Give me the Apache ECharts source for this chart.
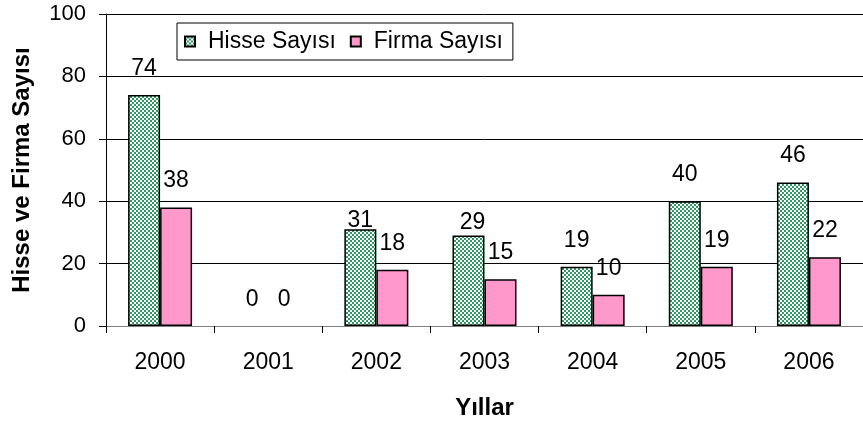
<!DOCTYPE html>
<html>
<head>
<meta charset="utf-8">
<script src="https://cdn.jsdelivr.net/npm/echarts@6/dist/echarts.min.js"></script>
<style>
html,body{margin:0;padding:0;background:#fff;}
#chart{width:863px;height:425px;}
</style>
</head>
<body>
<div id="chart"></div>
<script>
var categories = ['2000', '2001', '2002', '2003', '2004', '2005', '2006'];
var hisseSayisi = [74, 0, 31, 29, 19, 40, 46];
var firmaSayisi = [38, 0, 18, 15, 10, 19, 22];
var seriesNames = ['Hisse Sayısı', 'Firma Sayısı'];
var yAxisTitle = 'Hisse ve Firma Sayısı';
var xAxisTitle = 'Yıllar';

var FONT = '"Liberation Sans", Arial, sans-serif';

function makeChecker() {
  var c = document.createElement('canvas');
  c.width = 4; c.height = 4;
  var g = c.getContext('2d');
  g.fillStyle = '#2f9a5f';
  g.fillRect(0, 0, 4, 4);
  g.fillStyle = '#ffffff';
  g.fillRect(0, 0, 2, 2);
  g.fillRect(2, 2, 2, 2);
  return c;
}
var checker = makeChecker();

// label placement tweaks (index -> overrides) for the first series
var hisseLabelTweaks = {2: {distance: -3}, 3: {distance: 1, offset: [4, 0]}};

function buildData(values, tweaks) {
  return values.map(function (v, i) {
    var item = {value: v};
    if (tweaks && tweaks[i]) item.label = tweaks[i];
    if (v === 0) item.itemStyle = {borderWidth: 0};
    return item;
  });
}

var chart = echarts.init(document.getElementById('chart'), null, {renderer: 'canvas'});
chart.setOption({
  animation: false,
  backgroundColor: '#ffffff',
  textStyle: {fontFamily: FONT},
  grid: {left: 106, top: 14, width: 763, height: 315, containLabel: false},
  legend: {
    left: 177, top: 23,
    orient: 'horizontal',
    padding: [7, 10, 7, 7],
    borderColor: '#000',
    borderWidth: 1,
    backgroundColor: '#fff',
    itemWidth: 10, itemHeight: 10,
    itemGap: 14,
    icon: 'rect',
    textStyle: {fontFamily: FONT, fontSize: 23, color: '#000', padding: [0, 0, 0, 8]},
    data: seriesNames
  },
  xAxis: {
    type: 'category',
    data: categories,
    name: xAxisTitle,
    nameLocation: 'middle',
    nameGap: 70,
    nameTextStyle: {fontFamily: FONT, fontSize: 24, fontWeight: 'bold', color: '#000'},
    axisLine: {lineStyle: {color: '#808080', width: 1}},
    axisTick: {show: true, length: 7, inside: false, lineStyle: {color: '#000'}},
    axisLabel: {fontFamily: FONT, fontSize: 23, color: '#000', margin: 25},
    splitLine: {show: false}
  },
  yAxis: {
    type: 'value',
    min: 0, max: 100, interval: 20,
    name: yAxisTitle,
    nameLocation: 'middle',
    nameRotate: 90,
    nameGap: 72,
    nameTextStyle: {fontFamily: FONT, fontSize: 24, fontWeight: 'bold', color: '#000'},
    axisLine: {show: true, lineStyle: {color: '#000', width: 1}},
    axisTick: {show: true, length: 7, inside: false, lineStyle: {color: '#000'}},
    axisLabel: {fontFamily: FONT, fontSize: 22, color: '#000', margin: 20},
    splitLine: {show: true, lineStyle: {color: '#000', width: 1}}
  },
  series: [
    {
      name: seriesNames[0],
      type: 'bar',
      data: buildData(hisseSayisi, hisseLabelTweaks),
      barWidth: 32,
      barGap: '0%',
      itemStyle: {color: {image: checker, repeat: 'repeat'}, borderColor: '#000', borderWidth: 1.5},
      label: {show: true, position: 'top', distance: 15, fontFamily: FONT, fontSize: 23, color: '#000'}
    },
    {
      name: seriesNames[1],
      type: 'bar',
      data: buildData(firmaSayisi),
      barWidth: 32,
      barGap: '0%',
      itemStyle: {color: '#ff99cc', borderColor: '#000', borderWidth: 1.5},
      label: {show: true, position: 'top', distance: 15, fontFamily: FONT, fontSize: 23, color: '#000'}
    }
  ]
});
</script>
</body>
</html>
